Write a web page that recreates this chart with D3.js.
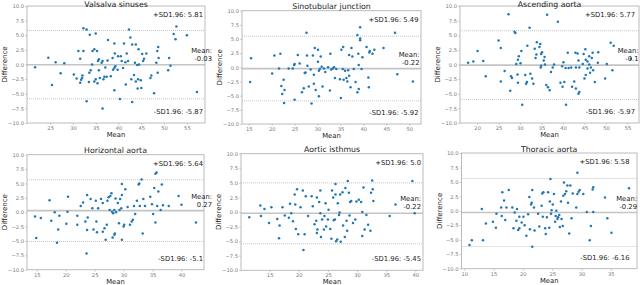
<!DOCTYPE html>
<html><head><meta charset="utf-8">
<script src="https://cdn.jsdelivr.net/npm/d3@7"></script>
<style>
body{margin:0;background:#fff}
svg{display:block}
text{font-family:"DejaVu Sans",sans-serif}
</style>
</head><body>
<svg id="chart" width="640" height="285"></svg>
<script>
// ---------------- DATA ----------------
const titles = ["Valsalva sinuses","Sinotubular junction","Ascending aorta","Horizontal aorta","Aortic isthmus","Thoracic aorta"];

const valsalvaMean = [21.7,24.6,25.4,26.2,27.3,28.1,30.2,30.8,31.2,31.6,31.6,31.8,32.0,32.1,32.3,32.3,33.0,33.0,33.5,33.6,33.7,33.9,34.2,34.3,34.7,34.7,35.0,35.0,35.3,35.4,35.5,35.7,35.7,35.9,36.3,36.5,36.5,36.7,36.9,37.1,37.4,37.6,37.7,38.3,38.7,38.8,39.1,39.1,39.1,39.2,39.3,39.8,39.9,40.3,40.5,40.7,41.0,41.2,41.5,41.6,41.8,42.1,42.3,42.6,42.8,43.0,43.0,43.4,43.6,43.8,43.8,44.1,44.2,44.3,44.4,44.5,44.9,45.0,45.2,45.4,45.6,46.1,47.0,47.2,47.8,48.3,48.5,48.6,48.7,48.8,50.9,51.1,51.4,52.1,52.5,52.7,55.0,57.2];
const valsalvaDiff = [-0.45,1.15,-3.5,0.4,-1.5,0.2,-1.7,-2.4,2.3,1.0,-3.1,-2.6,-2.3,-1.9,2.3,6.2,6.0,-6.3,-3.0,-1.4,5.1,-1.0,0.0,2.3,2.6,-2.9,5.3,-2.5,2.3,-3.2,0.6,0.9,-1.0,-2.3,0.3,0.6,-7.5,-2.5,-2.1,-0.5,-2.1,0.7,4.2,-2.0,1.1,-0.9,3.6,-0.6,-4.4,1.9,-0.3,-0.9,1.4,-5.9,1.4,0.6,-0.6,3.6,0.4,-3.4,1.9,0.6,6.0,4.6,-2.5,3.4,-6.4,-1.8,0.3,-2.9,3.4,-0.1,-4.1,-2.5,2.6,0.0,-2.7,-4.0,1.8,0.6,1.0,1.9,-2.3,-1.9,-4.9,0.3,2.3,-1.4,3.0,1.1,-1.0,1.1,-0.2,5.2,4.3,6.5,5.0,-4.7];

const sinotubularMean = [15.3,15.5,20.1,20.6,21.6,21.9,22.1,22.3,22.6,22.7,22.8,23.7,24.6,24.9,25.0,25.0,25.7,26.1,26.6,27.0,27.2,27.4,27.6,27.7,27.8,28.1,28.5,28.7,29.0,29.2,29.2,29.4,29.6,30.1,30.1,30.3,30.3,30.5,30.7,30.9,31.1,31.4,31.7,32.3,32.7,32.8,33.0,33.3,33.6,33.8,34.1,34.9,35.1,35.2,35.5,35.6,35.7,36.0,36.3,36.5,36.7,36.9,36.9,37.2,37.4,37.6,37.9,38.3,38.7,38.7,38.9,39.0,39.0,39.3,39.3,39.3,39.6,39.8,40.7,41.1,41.2,41.3,41.4,42.0,42.4,44.4,46.9,47.4,50.8];
const sinotubularDiff = [-2.6,1.6,-1.1,2.1,-0.2,2.4,-3.3,-4.7,-2.2,-6.3,-4.0,-0.2,-0.2,0.4,-5.7,0.6,2.2,0.7,-4.4,-3.7,-1.0,-0.9,6.1,2.1,0.3,-3.4,-0.4,-6.4,2.1,-2.9,-1.3,3.4,-4.0,3.1,1.0,-5.1,-0.6,-0.3,1.9,0.1,-3.4,-0.2,-0.8,0.0,-4.1,2.4,-0.4,-0.2,0.0,-1.9,-0.3,-2.1,-5.4,3.1,-0.3,3.6,-2.2,-0.6,-1.9,-2.5,-0.5,2.2,-1.5,-3.5,3.4,1.9,-0.3,-2.6,-4.4,5.7,2.4,0.4,-3.8,4.8,5.1,7.1,-0.3,1.8,3.6,-1.8,-3.5,2.6,2.9,2.4,3.1,3.4,6.1,-1.2,-2.5];

const ascendingMean = [17.9,19.1,20.1,21.4,22.0,25.0,25.5,25.5,26.4,27.3,27.7,27.9,28.1,28.7,28.9,29.1,29.4,29.5,29.5,29.7,30.1,30.3,30.5,31.2,31.4,31.6,31.7,32.2,32.4,32.8,33.1,33.4,33.6,33.8,33.9,34.5,34.7,34.8,34.9,34.9,35.1,35.5,35.7,35.8,36.1,36.3,36.5,36.9,37.2,37.6,37.9,38.8,39.4,39.8,39.9,40.1,40.3,40.6,40.7,41.1,41.3,41.9,42.1,42.6,42.9,43.0,43.0,43.4,43.6,43.6,43.8,43.8,44.6,44.8,45.0,45.2,45.3,45.3,45.7,45.7,46.1,46.1,46.3,46.5,46.7,46.9,47.0,47.4,48.1,48.2,49.8,50.2,51.1,51.5,51.8,55.8];
const ascendingDiff = [0.3,0.5,2.3,0.6,-2.0,4.1,2.8,-2.9,-1.1,8.6,-4.5,-2.0,-2.3,5.6,5.4,0.1,-1.7,-3.1,0.8,1.4,0.2,2.3,-6.9,-1.8,-3.3,-3.0,3.2,6.3,-1.6,-2.4,-3.3,2.7,1.1,1.7,3.8,3.0,3.5,-0.5,-0.2,1.8,2.1,0.7,1.3,0.0,-3.5,8.5,-3.9,-4.4,-1.3,-0.5,0.0,7.3,-3.1,-0.3,-3.8,0.4,-3.0,-0.6,-6.9,2.0,-0.6,-0.5,-3.8,-2.9,2.0,-0.5,-4.1,1.9,0.7,-5.0,-4.7,-0.5,0.1,1.8,-2.4,2.6,0.8,-1.8,-0.7,0.5,1.4,0.0,-1.4,-0.5,1.1,2.0,-1.0,-3.0,0.3,2.1,-2.4,0.1,3.7,-1.0,3.2,1.0];

const horizontalMean = [14.7,14.9,15.7,17.2,17.5,18.1,18.5,18.7,18.9,20.1,20.3,20.4,22.0,22.0,22.6,23.0,23.4,23.6,23.7,23.7,23.8,24.3,24.6,24.8,25.2,25.3,25.4,25.6,26.1,26.4,26.4,26.7,26.9,27.1,27.2,27.4,27.6,27.7,27.9,28.0,28.1,28.2,28.4,28.4,28.5,28.6,28.7,29.0,29.2,29.3,29.4,29.6,29.7,29.7,29.7,30.0,30.1,30.3,30.7,31.1,31.4,31.6,31.8,32.0,32.3,32.6,32.7,32.8,33.1,33.3,33.4,33.7,34.6,34.9,35.1,35.3,35.5,35.7,35.5,35.8,36.0,36.4,36.6,36.8,37.8,39.5,40.0,42.5];
const horizontalDiff = [-0.75,-4.5,-1.0,2.1,-1.5,0.0,-5.3,-3.0,-0.6,-2.0,0.1,2.7,-0.6,-2.2,1.1,1.7,-1.6,-7.2,-3.1,3.0,-0.9,2.3,0.7,-3.0,2.0,-1.6,-3.5,0.7,2.3,1.6,-3.4,-2.8,-4.8,-2.2,2.0,2.6,0.4,2.8,3.3,0.1,-4.4,-0.2,-3.9,0.4,-3.7,2.4,0.0,1.6,-1.9,0.4,2.3,0.7,4.9,3.0,-4.8,-2.5,-2.2,4.0,0.9,-2.2,-1.6,-1.3,1.1,-0.3,2.0,4.8,5.0,1.1,5.7,-3.7,2.3,1.1,2.7,1.4,-0.3,4.2,6.7,6.9,-1.8,1.1,3.6,0.4,4.8,1.2,1.1,2.8,1.3,-1.8];

const isthmusMean = [11.5,13.4,13.5,14.1,14.9,15.3,16.3,16.6,16.7,17.2,17.6,18.3,18.5,18.7,19.0,19.3,19.4,19.5,19.7,19.9,20.3,20.7,20.8,21.0,21.2,21.6,22.2,22.4,22.7,23.0,23.1,23.1,23.2,23.5,23.7,23.7,23.8,24.0,24.3,24.4,24.6,24.7,25.0,25.1,25.4,25.6,25.7,25.9,26.0,26.2,26.3,26.3,26.4,26.6,26.7,26.9,27.0,27.1,27.2,27.5,27.6,27.9,28.0,28.2,28.3,28.4,28.6,28.7,28.8,29.0,29.3,29.7,29.9,30.3,30.7,30.9,30.9,31.1,31.3,31.6,31.9,32.3,32.4,32.6,32.7,32.8,35.6,36.6,39.5,39.9];
const isthmusDiff = [-0.9,1.1,-0.7,0.5,-1.9,0.8,-1.2,-4.5,-2.3,0.8,-0.6,-1.0,1.4,-0.2,-1.6,3.0,1.3,-2.9,3.9,-3.8,0.8,3.7,-6.5,-3.8,2.7,-0.7,2.7,1.0,-2.1,-1.5,2.5,-3.6,-3.0,1.7,3.7,-0.2,-4.3,-1.3,-3.0,-0.7,1.5,-2.5,-1.3,0.4,-2.9,-4.6,3.7,2.5,-1.4,-1.3,4.8,3.0,-5.0,-4.7,1.5,-0.5,-0.1,3.0,-5.1,3.4,-2.3,-4.3,4.1,-1.5,-3.2,5.3,3.3,-0.6,1.7,1.9,-1.9,-1.3,1.8,2.1,1.7,0.0,-4.1,4.2,-3.0,-0.5,-2.2,-3.2,3.3,5.4,3.9,1.9,-0.7,1.3,5.3,-0.2];

const thoracicMean = [10.9,11.3,13.0,13.2,13.7,14.9,15.4,15.5,16.3,16.4,16.5,16.8,17.0,17.2,17.6,18.2,18.4,18.6,18.9,19.0,19.2,19.4,19.4,19.8,20.1,20.3,20.6,20.9,21.1,21.2,21.4,21.5,21.6,21.6,21.9,22.0,22.6,22.8,23.2,23.3,23.4,23.5,23.8,23.9,24.1,24.3,24.5,24.6,24.7,24.8,24.9,25.1,25.3,25.5,25.6,25.7,25.9,26.0,26.2,26.3,26.5,26.6,26.8,26.9,27.0,27.2,27.4,27.6,27.7,27.9,28.1,28.3,28.5,29.1,29.3,29.3,29.5,29.7,30.3,30.9,31.4,31.6,31.9,32.0,32.0,34.0,34.4,35.1,38.1];
const thoracicDiff = [-5.9,-5.1,0.3,-5.1,-2.2,-1.9,-2.9,-0.5,0.6,-0.9,3.2,1.8,-1.6,0.6,3.6,0.6,-3.0,-0.3,-1.7,0.3,-3.3,-3.0,-1.0,-2.0,-1.0,-2.5,-4.3,-0.6,2.4,-3.2,1.1,1.4,3.6,-6.2,0.6,-3.4,-0.5,-2.7,0.9,3.0,-1.0,3.2,-3.0,-4.0,-1.1,3.2,-2.9,1.6,5.5,-0.5,0.1,1.1,2.9,-1.9,-0.9,0.0,-1.4,-1.1,-0.7,-2.8,1.6,-1.4,-2.6,2.6,4.9,2.9,3.4,4.4,1.4,-3.9,4.4,-1.3,3.0,0.6,6.6,2.9,3.3,3.6,2.9,-0.2,-5.1,-2.6,3.7,4.1,-0.2,2.3,-1.3,-3.8,3.9];

const meanDiffs = [-0.03, -0.22, -0.1, 0.27, -0.22, -0.29];
const upperLimits = [5.81, 5.49, 5.77, 5.64, 5.0, 5.58];
const lowerLimits = [-5.87, -5.92, -5.97, -5.1, -5.45, -6.16];

const yTickValues = [-10, -7.5, -5, -2.5, 0, 2.5, 5, 7.5, 10];
const xTickValues = [
  [25,30,35,40,45,50,55],
  [15,20,25,30,35,40,45,50],
  [20,25,30,35,40,45,50,55],
  [15,20,25,30,35,40],
  [15,20,25,30,35,40],
  [10,15,20,25,30,35]
];
const xLabel = "Mean";
const yLabel = "Difference";

// ---------------- LAYOUT ----------------
const layout = [
  {L:27,    R:205, T:6,     B:123,   sdDx:-2,   meanDx:7},
  {L:242,   R:421, T:10.7,  B:124,   sdDx:-2.5, meanDx:-1.5},
  {L:460,   R:639, T:6,     B:123,   sdDx:-4,   meanDx:-0.5},
  {L:27,    R:204, T:154.7, B:269.7, sdDx:-1,   meanDx:8},
  {L:241,   R:423, T:153.7, B:270.3, sdDx:-2,   meanDx:-2},
  {L:461.5, R:637, T:153,   B:268.7, sdDx:-7.5, meanDx:0}
];

const panels = [
  {mean: valsalvaMean, diff: valsalvaDiff},
  {mean: sinotubularMean, diff: sinotubularDiff},
  {mean: ascendingMean, diff: ascendingDiff},
  {mean: horizontalMean, diff: horizontalDiff},
  {mean: isthmusMean, diff: isthmusDiff},
  {mean: thoracicMean, diff: thoracicDiff}
];

const svg = d3.select("#chart");
const fmtY = d => (d < 0 ? "\u2212" : "") + Math.abs(d).toFixed(1);
const fmtStat = v => Number.isInteger(v) ? v.toFixed(1) : String(v);

panels.forEach((p, i) => {
  const lay = layout[i];
  const [mn, mx] = d3.extent(p.mean);
  const pad = (mx - mn) * 0.05;
  const x = d3.scaleLinear().domain([mn - pad, mx + pad]).range([lay.L, lay.R]);
  const y = d3.scaleLinear().domain([-10, 10]).range([lay.B, lay.T]);
  const g = svg.append("g");

  // reference lines
  g.append("line").attr("x1", lay.L).attr("x2", lay.R)
    .attr("y1", y(meanDiffs[i])).attr("y2", y(meanDiffs[i]))
    .attr("stroke", "#c4c4c4").attr("stroke-width", 1.6);
  [upperLimits[i], lowerLimits[i]].forEach(v => {
    g.append("line").attr("x1", lay.L).attr("x2", lay.R)
      .attr("y1", y(v)).attr("y2", y(v))
      .attr("stroke", "#b8b8b8").attr("stroke-width", 0.8)
      .attr("stroke-dasharray", "1,1");
  });

  // axes
  const ax = g.append("g").attr("transform", `translate(0,${lay.B})`)
    .call(d3.axisBottom(x).tickValues(xTickValues[i]).tickFormat(d3.format("d")).tickSize(2).tickPadding(1.5));
  const ay = g.append("g").attr("transform", `translate(${lay.L},0)`)
    .call(d3.axisLeft(y).tickValues(yTickValues).tickFormat(fmtY).tickSize(2).tickPadding(1));
  [ax, ay].forEach(a => {
    a.select(".domain").remove();
    a.selectAll("line").attr("stroke", "#b0b0b0").attr("stroke-width", 0.6);
    a.selectAll("text").attr("font-size", 5.2).attr("fill", "#7a7a7a")
      .attr("font-family", "DejaVu Sans, sans-serif");
  });

  // spines
  g.append("rect").attr("x", lay.L).attr("y", lay.T)
    .attr("width", lay.R - lay.L).attr("height", lay.B - lay.T)
    .attr("fill", "none").attr("stroke", "#b4b4b4").attr("stroke-width", 0.9);

  // points
  g.selectAll("circle.pt").data(p.mean.map((m, k) => [m, p.diff[k]])).join("circle")
    .attr("class", "pt")
    .attr("cx", d => x(d[0])).attr("cy", d => y(d[1]))
    .attr("r", 1.25).attr("fill", "#1f77b4");

  // title
  g.append("text").attr("x", (lay.L + lay.R) / 2).attr("y", Math.max(lay.T - 1.5, 6.6))
    .attr("text-anchor", "middle").attr("font-size", 7.8).attr("fill", "#222")
    .text(titles[i]);

  // axis labels
  g.append("text").attr("x", (lay.L + lay.R) / 2).attr("y", lay.B + 14)
    .attr("text-anchor", "middle").attr("font-size", 6.8).attr("fill", "#222")
    .text(xLabel);
  g.append("text")
    .attr("transform", `translate(${lay.L - 20},${(lay.T + lay.B) / 2}) rotate(-90)`)
    .attr("text-anchor", "middle").attr("font-size", 7).attr("fill", "#222")
    .text(yLabel);

  // annotations
  const H = lay.B - lay.T;
  g.append("text").attr("x", lay.R + lay.sdDx).attr("y", lay.T + 0.08 * H + 2)
    .attr("text-anchor", "end").attr("font-size", 6.8).attr("fill", "#222")
    .text(`+SD1.96: ${fmtStat(upperLimits[i])}`);
  g.append("text").attr("x", lay.R + lay.sdDx).attr("y", lay.B - 0.07 * H - 1)
    .attr("text-anchor", "end").attr("font-size", 6.8).attr("fill", "#222")
    .text(`-SD1.96: ${fmtStat(lowerLimits[i])}`);
  const my = y(meanDiffs[i]) - 4;
  const mt = g.append("text").attr("text-anchor", "end").attr("font-size", 6.8).attr("fill", "#222");
  mt.append("tspan").attr("x", lay.R + lay.meanDx).attr("y", my - 7.8).text("Mean:");
  mt.append("tspan").attr("x", lay.R + lay.meanDx).attr("y", my).text(fmtStat(meanDiffs[i]));
});
</script>
</body></html>
